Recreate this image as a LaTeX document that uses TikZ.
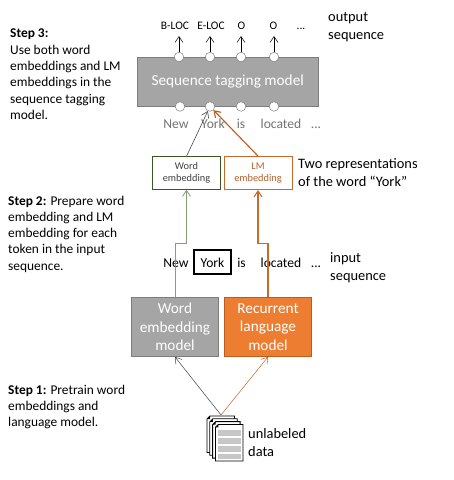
\documentclass[tikz,border=0pt]{standalone}
\usepackage{fontspec}
\setmainfont{Carlito}
\usetikzlibrary{arrows.meta}

\definecolor{boxgray}{RGB}{165,165,165}
\definecolor{boxedge}{RGB}{125,125,125}
\definecolor{lmorange}{RGB}{237,125,49}
\definecolor{lmedge}{RGB}{190,90,30}
\definecolor{lmtext}{RGB}{185,95,45}
\definecolor{wordgreen}{RGB}{56,87,35}
\definecolor{wordline}{RGB}{130,160,115}

\tikzset{
  model/.style={draw=boxedge,fill=boxgray,text=white,font=\fontsize{15.3}{18.3}\selectfont,align=center,inner sep=0pt,line width=0.8pt},
  embed/.style={draw,fill=white,font=\fontsize{10.3}{12}\selectfont,align=center,inner sep=0pt,minimum width=68pt,minimum height=33pt},
  port/.style={circle,draw=boxedge,fill=white,inner sep=0pt,minimum size=9.5pt,line width=0.5pt},
  tag/.style={font=\fontsize{11.5}{12}\selectfont,inner sep=0pt,text height=10pt,text depth=1pt},
  word/.style={font=\fontsize{13.6}{14}\selectfont,inner sep=0pt,text height=12pt,text depth=2pt},
  note/.style={font=\fontsize{14.4}{18}\selectfont,align=left,inner sep=0pt,anchor=north west},
  steptext/.style={font=\fontsize{13.4}{16.3}\selectfont,align=left,inner sep=0pt,anchor=north west},
  page/.style={draw=black,fill=white,line width=0.8pt},
  greyband/.style={draw=black!22,line width=5.5pt}
}

\begin{document}
\begin{tikzpicture}[x=1pt,y=-1pt,>={Straight Barb[length=6pt,width=8pt]}]
  \useasboundingbox (0,0) rectangle (454,480);

  % sequence tagging model
  \node[model,minimum width=180.5pt,minimum height=49pt] (tagger) at (227.7,81.7) {Sequence tagging model};
  \foreach \name/\x in {a/179,b/210,c/241,d/274} {
    \node[port] (top\name) at (\x,57) {};
    \coordinate (head\name) at (\x,36);
  }
  \foreach \name/\x in {a/180,b/210,c/241,d/274} {
    \node[port] (bot\name) at (\x,106.5) {};
  }

  % output tags
  \node[tag] (outa) at (175,24.5) {B-LOC};
  \node[tag] (outb) at (211,24.5) {E-LOC};
  \node[tag] (outc) at (241.5,24.5) {O};
  \node[tag] (outd) at (273.5,24.5) {O};
  \node[tag] (oute) at (301,24.5) {...};
  \node[note] (outlabel) at (328,12.5) {output\\sequence};

  \node[word,text=black!55] (ina) at (176,123.5) {New};
  \node[word,text=black!55] (inb) at (213,123.5) {York};
  \node[word,text=black!55] (inc) at (241,123.5) {is};
  \node[word,text=black!55] (ind) at (281,123.5) {located};
  \node[word,text=black!55] (ine) at (316,123.5) {...};

  % the two embeddings
  \node[embed,draw=wordgreen,text=black!75] (wordemb) at (186.5,173) {Word\\embedding};
  \node[embed,draw=lmorange!85!black,text=lmtext,line width=0.9pt] (lmemb) at (258,173) {LM\\embedding};
  \node[note] (twolabel) at (298,158.5) {Two representations\\of the word “York”};

  % input sequence
  \node[word] (seqa) at (176,262) {New};
  \node[word,draw,line width=1.3pt,minimum width=37pt,minimum height=24pt] (seqb) at (212.5,262) {York};
  \node[word] (seqc) at (241.5,262) {is};
  \node[word] (seqd) at (281,262) {located};
  \node[word] (seqe) at (316,262) {...};
  \node[note] (inlabel) at (330,252.5) {input\\sequence};

  % the two pretrained models
  \node[model,minimum width=87pt,minimum height=59pt] (wordmodel) at (175,327) {Word\\embedding\\model};
  \node[model,draw=lmedge,fill=lmorange,minimum width=87pt,minimum height=59pt] (lmmodel) at (268,327) {Recurrent\\language\\model};

  % stack of pages
  \coordinate (stack) at (221,415);
  \foreach \i in {0,1,2,3} {
    \begin{scope}[shift={(207+2.8*\i,416+2.8*\i)}]
      \draw[page] (3,0) -- (27.5,0) -- (27.5,36.5) -- (0,36.5) -- (0,3) -- cycle;
      \fill[black] (3,0) -- (3,3) -- (0,3) -- cycle;
    \end{scope}
  }
  \foreach \y in {433,441,449,456.5} {
    \draw[greyband] (218,\y) -- (241,\y);
  }
  \node[note] (datalabel) at (248,428.5) {unlabeled\\data};

  % steps
  \node[steptext] (step3) at (10,29) {\textbf{Step 3:}\\Use both word\\embeddings and LM\\embeddings in the\\sequence tagging\\model.};
  \node[steptext] (step2) at (8,195.5) {\textbf{Step 2:} Prepare word\\embedding and LM\\embedding for each\\token in the input\\sequence.};
  \node[steptext] (step1) at (8,384.5) {\textbf{Step 1:} Pretrain word\\embeddings and\\language model.};

  \coordinate (wordbend) at (186.5,243.5);
  \coordinate (lmbend) at (258,243.5);

  \path[->,black,line width=0.5pt]
  (topa) edge (heada)
  (topb) edge (headb)
  (topc) edge (headc)
  (topd) edge (headd)
  ;
  \draw[->,black!70,line width=0.6pt] (wordemb.north) -- (botb);
  \draw[->,lmedge,line width=1.1pt] (lmemb.north) -- (botb);
  \draw[->,wordline,line width=0.8pt] (wordmodel.north) |- (wordbend) -- (wordemb.south);
  \draw[->,lmorange!85!black,line width=1.1pt] (lmmodel.north) |- (lmbend) -- (lmemb.south);
  \draw[->,black!75,line width=0.5pt] (stack) -- (wordmodel.south);
  \draw[->,lmorange!80!black,line width=0.5pt] (stack) -- (lmmodel.south);
\end{tikzpicture}
\end{document}
